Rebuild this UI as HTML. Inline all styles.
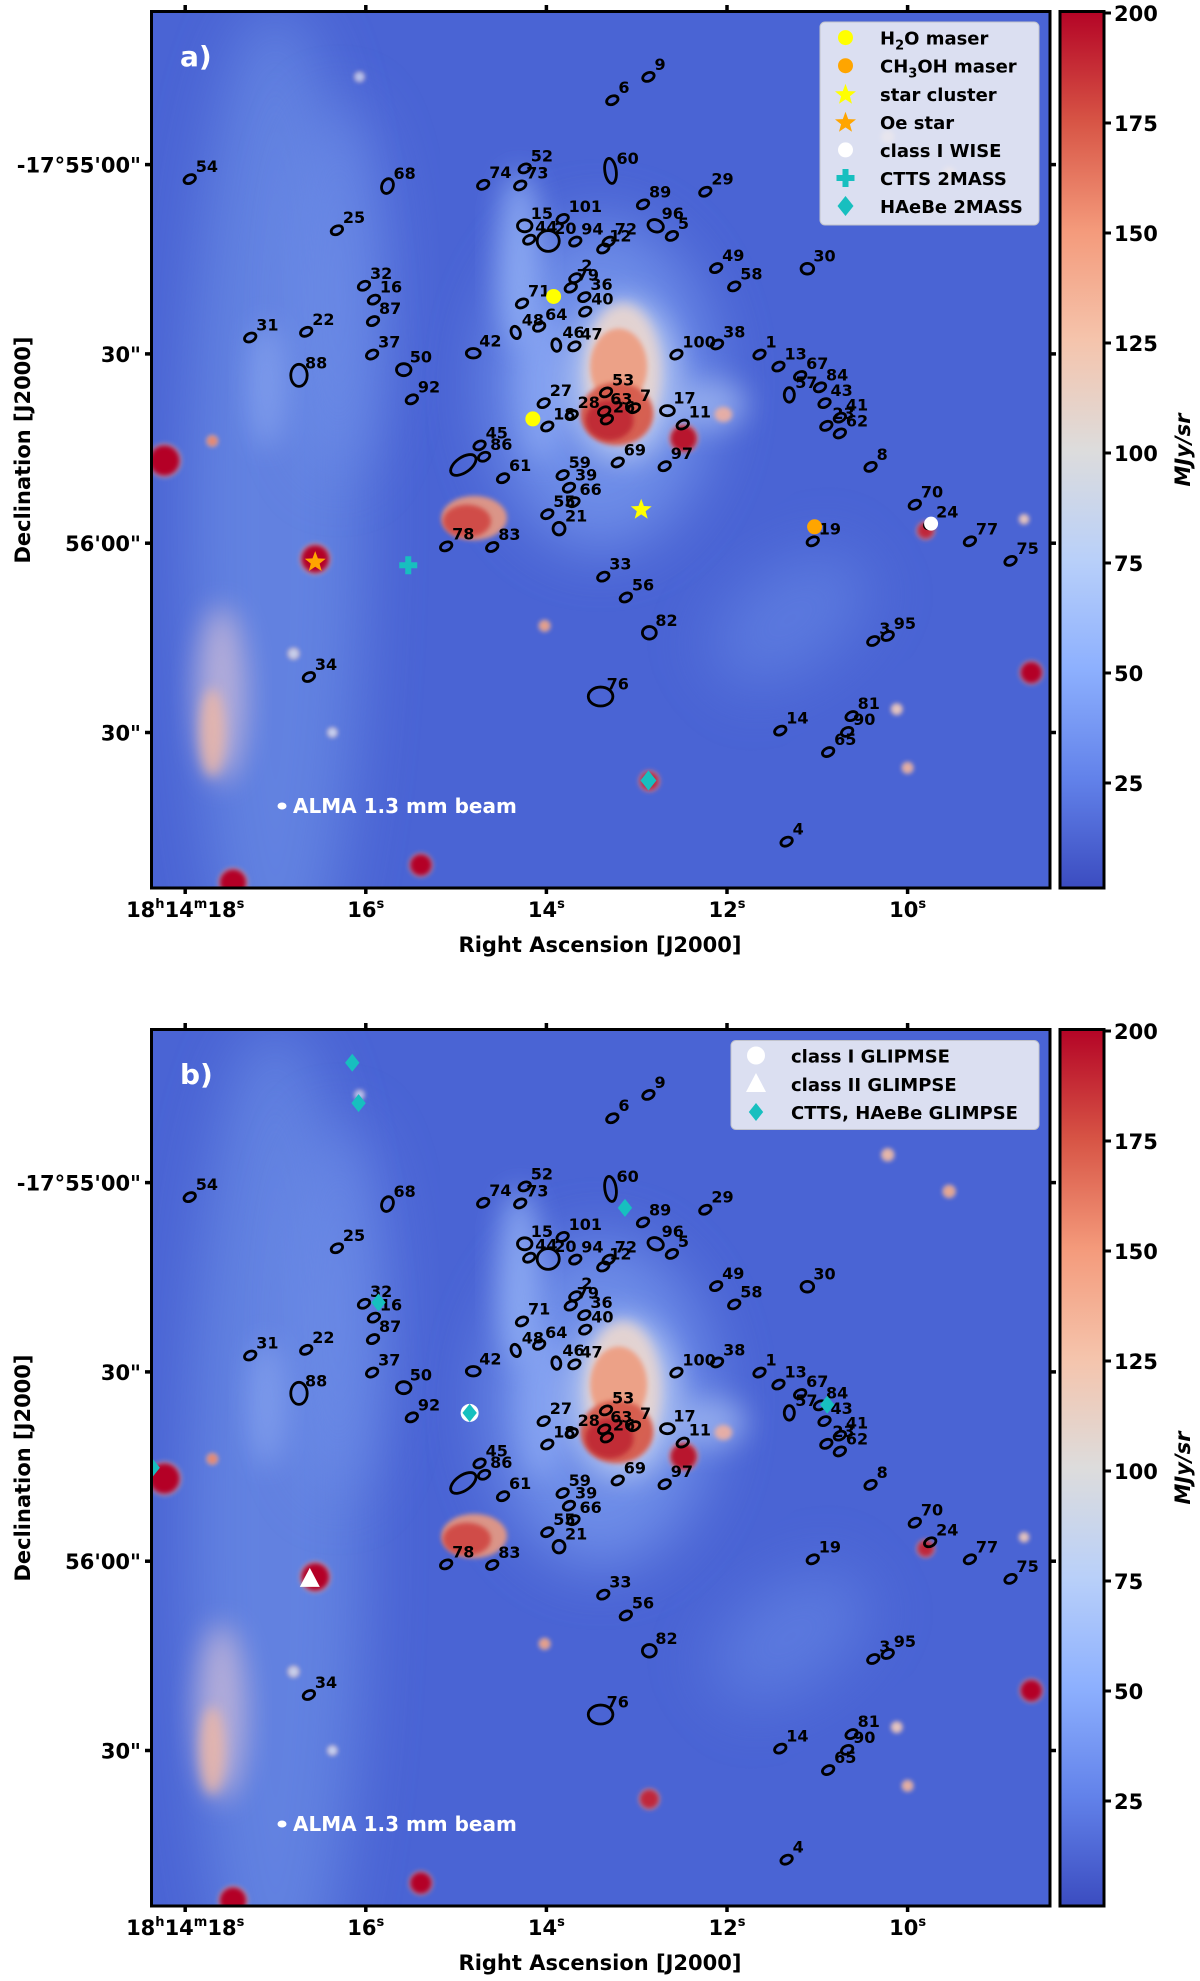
<!DOCTYPE html>
<html><head><meta charset="utf-8"><style>
html,body{margin:0;padding:0;background:#fff;}
svg{display:block;font-family:"DejaVu Sans","Liberation Sans",sans-serif;font-weight:bold;}
</style></head><body>
<svg id="fig" xmlns="http://www.w3.org/2000/svg" width="1200" height="1981" viewBox="0 0 1200 1981">
<defs>
<filter id="b30" x="-50%" y="-50%" width="200%" height="200%"><feGaussianBlur stdDeviation="30"/></filter>
<filter id="b14" x="-50%" y="-50%" width="200%" height="200%"><feGaussianBlur stdDeviation="14"/></filter>
<filter id="b6" x="-50%" y="-50%" width="200%" height="200%"><feGaussianBlur stdDeviation="6"/></filter>
<filter id="b3" x="-50%" y="-50%" width="200%" height="200%"><feGaussianBlur stdDeviation="2.5"/></filter>
<linearGradient id="cmap" x1="0" y1="0" x2="0" y2="1">
<stop offset="0" stop-color="#b40426"/><stop offset="0.125" stop-color="#d75445"/><stop offset="0.25" stop-color="#f49a7b"/><stop offset="0.375" stop-color="#f5c4ac"/><stop offset="0.5" stop-color="#dddcdc"/><stop offset="0.625" stop-color="#b9d0f9"/><stop offset="0.75" stop-color="#8db0fe"/><stop offset="0.875" stop-color="#6282ea"/><stop offset="1" stop-color="#3b4cc0"/>
</linearGradient>
<clipPath id="clipA"><rect x="151.5" y="11.5" width="898.5" height="876.5"/></clipPath>
<clipPath id="clipB"><rect x="151.5" y="1029.5" width="898.5" height="876.5"/></clipPath>
</defs>
</svg>
<script>
// ---- data (RA seconds of 18h14m, Dec arcsec south of -17°55'00") ----
const srcId  = ["9","6","54","68","74","52","73","60","89","29","25","15","101","44","20","94","72","12","96","5","49","58","30","2","79","36","40","71","64","48","32","16","87","31","22","37","50","88","92","42","46","47","100","38","1","13","67","84","57","43","23","41","62","53","27","28","63","26","7","17","11","18","45","86","","61","69","97","59","39","66","55","21","8","70","24","77","75","19","78","83","33","56","82","3","95","34","76","14","81","90","65","4"];
const srcRA  = [12.87,13.27,17.95,15.76,14.70,14.24,14.29,13.29,12.93,12.24,16.32,14.24,13.82,14.19,13.98,13.68,13.31,13.37,12.79,12.61,12.12,11.92,11.11,13.68,13.73,13.58,13.57,14.27,14.08,14.34,16.02,15.91,15.92,17.28,16.66,15.93,15.58,16.74,15.49,14.81,13.89,13.69,12.56,12.11,11.64,11.43,11.19,10.97,11.31,10.92,10.90,10.75,10.75,13.34,14.03,13.72,13.36,13.33,13.03,12.66,12.49,13.99,14.74,14.69,14.92,14.48,13.21,12.69,13.82,13.75,13.70,13.99,13.86,10.41,9.92,9.75,9.31,8.86,11.05,15.11,14.60,13.37,13.12,12.86,10.38,10.22,16.63,13.40,11.41,10.62,10.67,10.88,11.34];
const srcDec = [-13.9,-10.2,2.3,3.4,3.2,0.6,3.3,1.0,6.3,4.3,10.4,9.7,8.6,11.9,12.1,12.2,12.2,13.3,9.7,11.3,16.4,19.3,16.5,18.0,19.5,21.0,23.3,22.0,25.7,26.6,19.2,21.4,24.8,27.4,26.5,30.1,32.5,33.4,37.2,29.9,28.6,28.8,30.1,28.5,30.1,32.0,33.5,35.3,36.5,37.8,41.4,40.1,42.6,36.1,37.8,39.7,39.1,40.4,38.6,39.0,41.2,41.5,44.5,46.3,47.6,49.7,47.2,47.8,49.2,51.2,53.5,55.4,57.7,47.9,53.9,57.0,59.7,62.8,59.7,60.5,60.6,65.3,68.6,74.2,75.5,74.7,81.2,84.3,89.7,87.4,89.9,93.1,107.3];
// sizes (arcsec) for non-default sources: [semi-x, semi-y, rotation]
const srcSize = {"60":[0.9,2.0,-8],"20":[1.75,1.65,0],"15":[1.15,0.95,0],"88":[1.3,1.75,0],"76":[1.95,1.5,0],"":[2.3,1.2,-35],"17":[1.1,0.8,0],"50":[1.15,0.95,0],"82":[1.1,1.0,0],"96":[1.25,0.95,20],"68":[0.9,1.2,20],"57":[0.8,1.15,0],"21":[0.95,1.0,0],"30":[1.0,0.85,0],"42":[1.1,0.75,0],"46":[0.7,1.0,-10],"48":[0.7,1.0,-20]};
const defMaj = 0.95, defMin = 0.65, defRot = -25;

// panel a markers
const h2oRA = [13.92,14.15], h2oDec = [20.9,40.3];
const ch3ohRA = [11.03], ch3ohDec = [57.4];
const clusterRA = [12.95], clusterDec = [54.7];
const oeRA = [16.56], oeDec = [63.0];
const wiseRA = [9.74], wiseDec = [56.9];
const cttsRA = [15.53], cttsDec = [63.5];
const haebeRA = [12.87], haebeDec = [97.6];
// panel b markers
const gClassIRA = [14.85], gClassIDec = [36.5];
const gClassIIRA = [16.62], gClassIIDec = [62.8];
const gCttsRA = [16.15,16.08,13.13,15.86,10.89,18.36,14.85], gCttsDec = [-19.0,-12.6,4.0,19.0,35.2,45.2,36.5];

// axis ticks
const raTicks = [18,16,14,12,10];
const raTickLabels = ["18h14m18s","16s","14s","12s","10s"];
const decTicks = [0,30,60,90];
const decTickLabels = ["-17°55'00\"","30\"","56'00\"","30\""];
const cbTicks = [25,50,75,100,125,150,175,200];

// ---- axis functions ----
const PX = 6.31;
function X(ra){ return 365.8 + (16 - ra) * 90.3; }
function Y(dd, off){ return off + 164.6 + dd * PX; }
function CBY(v, off){ return off + 13 + (200 - v) * 4.4; }

const NS = "http://www.w3.org/2000/svg";
const svg = document.getElementById('fig');
function mk(tag, attrs, parent){
  const e = document.createElementNS(NS, tag);
  for (const k in attrs) e.setAttribute(k, attrs[k]);
  (parent || svg).appendChild(e);
  return e;
}
function starPts(cx, cy, r){
  let p = [];
  for (let i = 0; i < 10; i++){
    const a = -Math.PI/2 + i*Math.PI/5, rr = i%2 ? r*0.42 : r;
    p.push((cx + rr*Math.cos(a)).toFixed(1) + "," + (cy + rr*Math.sin(a)).toFixed(1));
  }
  return p.join(" ");
}
function diamondPts(cx, cy, r){ return `${cx},${cy-r} ${cx+r*0.8},${cy} ${cx},${cy+r} ${cx-r*0.8},${cy}`; }
function plusPath(cx, cy, r, w){
  return `M${cx-w},${cy-r}h${2*w}v${r-w}h${r-w}v${2*w}h${-(r-w)}v${r-w}h${-2*w}v${-(r-w)}h${-(r-w)}v${-2*w}h${r-w}z`;
}

// background features [ra, dd, rxArcsec, ryArcsec, color, blurId, opacity, rot]
const bgFeatures = [
  [17.0,55,14,80,"#6585e2","b30",0.9,0],
  [16.3,20,8,30,"#6e8ee8","b30",0.7,0],
  [13.4,35,18,26,"#7292ea","b30",0.9,0],
  [11.3,72,14,8,"#6383e3","b30",0.7,-35],
  [14.3,15,3.5,14,"#94b2f6","b14",0.8,0],
  [14.05,35,4,12,"#8eaaf4","b14",0.7,0],
  [13.15,34,9,13,"#b4c6f2","b14",0.9,0],
  [12.2,38,6,4,"#a4bbf2","b14",0.7,0],
  [13.15,33,6,11,"#e6d4d0","b6",0.95,0],
  [13.2,32,4.5,6,"#ee9c80","b3",0.9,0],
  [13.22,39.5,5.8,5,"#d65a4c","b3",0.95,0],
  [13.3,40.5,3.8,3.2,"#c02a36","b3",0.95,0],
  [12.04,39.6,1.4,1.2,"#f0b0a0","b3",0.9,0],
  [14.8,56,5.2,3.5,"#ea9a80","b3",0.9,0],
  [14.88,56.5,3.8,2.6,"#d04a44","b3",0.95,0],
  [17.6,84,4,14,"#c8b8d8","b14",0.8,0],
  [17.7,90,2,7,"#f0b8a4","b6",0.8,0],
  [17.1,35,3,10,"#8eaaf2","b14",0.6,0]
];
// compact bright sources [ra, dd, rArcsec, color]
const blobs = [
  [18.23,46.9,2.4,"#b40426"],[16.56,62.5,2.2,"#b40426"],[15.39,111.0,1.7,"#b40426"],
  [17.47,113.8,2.1,"#b40426"],[8.63,80.5,1.7,"#b40426"],[12.86,97.7,1.5,"#c0283a"],
  [9.80,58.0,1.3,"#c0283a"],[12.48,43.4,2.1,"#b8152e"],[17.70,43.8,0.8,"#e88870"],
  [14.02,73.1,0.8,"#e8a088"],[10.22,-4.4,0.9,"#e8b8a8"],[9.54,1.4,0.9,"#e8a890"],
  [8.71,56.2,0.7,"#e8c8c0"],[10.12,86.3,0.8,"#e8c8c0"],[10.00,95.6,0.8,"#e8b0a0"],
  [16.37,90.0,0.7,"#c8d4f4"],[16.80,77.5,0.8,"#c8d0ec"],[16.07,-13.9,0.7,"#b8c8f4"]
];

function drawPanel(off, panel){
  const clip = panel === 'a' ? 'clipA' : 'clipB';
  const g = mk('g', {'clip-path': `url(#${clip})`});
  
  
  mk('rect', {x:151.5, y:off+11.5, width:898.5, height:876.5, fill:"#4a64d4"}, g);
  bgFeatures.forEach(f => {
    const cx = X(f[0]), cy = Y(f[1], off);
    mk('ellipse', {cx, cy, rx:f[2]*PX, ry:f[3]*PX, fill:f[4], opacity:f[6], filter:`url(#${f[5]})`, transform:`rotate(${f[7]} ${cx} ${cy})`}, g);
  });
  blobs.forEach(b => {
    const cx = X(b[0]), cy = Y(b[1], off);
    mk('circle', {cx, cy, r:b[2]*PX*1.15, fill:"#f0b8a8", opacity:0.5, filter:"url(#b3)"}, g);
    mk('circle', {cx, cy, r:b[2]*PX, fill:b[3], filter:"url(#b3)"}, g);
  });
  const sg = mk('g', {}, g);
  
  
  srcId.forEach((id, i) => {
    const cx = X(srcRA[i]), cy = Y(srcDec[i], off);
    const s = srcSize[id] || [defMaj, defMin, defRot];
    const e = mk('ellipse', {cx, cy, rx:s[0]*PX, ry:s[1]*PX, fill:"none", stroke:"#000", 'stroke-width':2.8, transform:`rotate(${s[2]} ${cx} ${cy})`}, sg);
    
    
    if (id){
      const t = mk('text', {x:cx + 6, y:cy - 7, 'font-size':16, fill:"#000"}, sg);
      t.textContent = id;
      
      
    }
  });
  const mg = mk('g', {}, g);
  
  
  if (panel === 'a'){
    h2oRA.forEach((r,i) => { const m = mk('circle', {cx:X(r), cy:Y(h2oDec[i],off), r:7.5, fill:"#ffff00"}, mg);   });
    ch3ohRA.forEach((r,i) => { const m = mk('circle', {cx:X(r), cy:Y(ch3ohDec[i],off), r:7.5, fill:"#ffa500"}, mg);   });
    clusterRA.forEach((r,i) => { const m = mk('polygon', {points:starPts(X(r), Y(clusterDec[i],off), 11), fill:"#ffff00"}, mg);   });
    oeRA.forEach((r,i) => { const m = mk('polygon', {points:starPts(X(r), Y(oeDec[i],off), 11), fill:"#ffa500"}, mg);   });
    wiseRA.forEach((r,i) => { const m = mk('circle', {cx:X(r), cy:Y(wiseDec[i],off), r:7, fill:"#ffffff"}, mg);   });
    cttsRA.forEach((r,i) => { const m = mk('path', {d:plusPath(X(r), Y(cttsDec[i],off), 9, 3), fill:"#17bfbf"}, mg);   });
    haebeRA.forEach((r,i) => { const m = mk('polygon', {points:diamondPts(X(r), Y(haebeDec[i],off), 10), fill:"#17bfbf"}, mg);   });
  } else {
    gClassIRA.forEach((r,i) => { const m = mk('circle', {cx:X(r), cy:Y(gClassIDec[i],off), r:9, fill:"#ffffff"}, mg);   });
    gClassIIRA.forEach((r,i) => { const x = X(r), y = Y(gClassIIDec[i],off); const m = mk('polygon', {points:`${x},${y-11} ${x+10},${y+8} ${x-10},${y+8}`, fill:"#ffffff"}, mg);   });
    gCttsRA.forEach((r,i) => { const m = mk('polygon', {points:diamondPts(X(r), Y(gCttsDec[i],off), 9), fill:"#17bfbf"}, mg);   });
  }
  const pl = mk('text', {x:180, y:off+66, 'font-size':28, fill:"#fff"});
  pl.textContent = panel + ")";
  
  
  const bd = mk('ellipse', {cx:282, cy:off+806, rx:4.5, ry:3.5, fill:"#fff"});
  
  
  const bt = mk('text', {x:293, y:off+813, 'font-size':20, fill:"#fff"});
  bt.textContent = "ALMA 1.3 mm beam";
  
  

  const fr = mk('rect', {x:151.5, y:off+11.5, width:898.5, height:876.5, fill:"none", stroke:"#000", 'stroke-width':3});
  
  
  raTicks.forEach((ra, i) => {
    const x = X(ra);
    mk('line', {x1:x, x2:x, y1:off+11.5, y2:off+5, stroke:"#000", 'stroke-width':3.5});
    mk('line', {x1:x, x2:x, y1:off+888, y2:off+894, stroke:"#000", 'stroke-width':3.5});
    const t = mk('text', {x:x, y:off+917, 'font-size':21, 'text-anchor':"middle", fill:"#000"});
    
    
    if (i === 0){
      t.innerHTML = '18<tspan font-size="13" dy="-9">h</tspan><tspan dy="9">14</tspan><tspan font-size="13" dy="-9">m</tspan><tspan dy="9">18</tspan><tspan font-size="13" dy="-9">s</tspan>';
    } else {
      t.innerHTML = raTickLabels[i].replace('s','') + '<tspan font-size="13" dy="-9">s</tspan>';
    }
  });
  decTicks.forEach((d, i) => {
    const y = Y(d, off);
    mk('line', {x1:151.5, x2:145, y1:y, y2:y, stroke:"#000", 'stroke-width':3.5});
    mk('line', {x1:1050, x2:1056, y1:y, y2:y, stroke:"#000", 'stroke-width':3.5});
    const t = mk('text', {x:141, y:y+8, 'font-size':21, 'text-anchor':"end", fill:"#000"});
    t.textContent = decTickLabels[i];
    
    
  });
  const xt = mk('text', {x:600, y:off+952, 'font-size':21, 'text-anchor':"middle", fill:"#000"});
  xt.textContent = "Right Ascension [J2000]";
  
  
  const yt = mk('text', {x:0, y:0, 'font-size':21, 'text-anchor':"middle", fill:"#000", transform:`translate(30 ${off+450}) rotate(-90)`});
  yt.textContent = "Declination [J2000]";
  
  

  const cb = mk('rect', {x:1060, y:off+11.5, width:44, height:876.5, fill:"url(#cmap)", stroke:"#000", 'stroke-width':3});
  
  
  cbTicks.forEach(v => {
    const y = CBY(v, off);
    mk('line', {x1:1104, x2:1111, y1:y, y2:y, stroke:"#000", 'stroke-width':3});
    const t = mk('text', {x:1114, y:y+8, 'font-size':21, fill:"#000"});
    t.textContent = v;
    
    
  });
  const ct = mk('text', {x:0, y:0, 'font-size':21, 'font-style':"italic", 'text-anchor':"middle", fill:"#000", transform:`translate(1190 ${off+450}) rotate(-90)`});
  ct.textContent = "MJy/sr";
  
  

  const lg = mk('g', {});
  
  
  if (panel === 'a'){
    mk('rect', {x:820, y:off+22, width:219, height:203, rx:5, fill:"#e8eaf4", opacity:0.92, stroke:"#cccccc"}, lg);
    const ys = [37.6,65.7,93.8,121.8,149.9,178,206];
    const lab = ['H<tspan font-size="13" dy="5">2</tspan><tspan dy="-5">O maser</tspan>','CH<tspan font-size="13" dy="5">3</tspan><tspan dy="-5">OH maser</tspan>','star cluster','Oe star','class I WISE','CTTS 2MASS','HAeBe 2MASS'];
    mk('circle', {cx:845.5, cy:off+ys[0], r:7.5, fill:"#ffff00"}, lg);
    mk('circle', {cx:845.5, cy:off+ys[1], r:7.5, fill:"#ffa500"}, lg);
    mk('polygon', {points:starPts(845.5, off+ys[2]+1, 11), fill:"#ffff00"}, lg);
    mk('polygon', {points:starPts(845.5, off+ys[3]+1, 11), fill:"#ffa500"}, lg);
    mk('circle', {cx:845.5, cy:off+ys[4], r:7.5, fill:"#ffffff"}, lg);
    mk('path', {d:plusPath(845.5, off+ys[5], 9, 3), fill:"#17bfbf"}, lg);
    mk('polygon', {points:diamondPts(845.5, off+ys[6], 10), fill:"#17bfbf"}, lg);
    ys.forEach((y,i) => {
      const t = mk('text', {x:880, y:off+y+7, 'font-size':18, fill:"#000"}, lg);
      t.innerHTML = lab[i];
      
      
    });
  } else {
    mk('rect', {x:731, y:off+22.5, width:308, height:89, rx:5, fill:"#e8eaf4", opacity:0.92, stroke:"#cccccc"}, lg);
    const ys = [37.5,66,94];
    const lab = ['class I GLIPMSE','class II GLIMPSE','CTTS, HAeBe GLIMPSE'];
    mk('circle', {cx:756, cy:off+ys[0], r:9, fill:"#ffffff"}, lg);
    mk('polygon', {points:`756,${off+ys[1]-11} 766,${off+ys[1]+8} 746,${off+ys[1]+8}`, fill:"#ffffff"}, lg);
    mk('polygon', {points:diamondPts(756, off+ys[2], 9), fill:"#17bfbf"}, lg);
    ys.forEach((y,i) => {
      const t = mk('text', {x:791, y:off+y+7, 'font-size':18, fill:"#000"}, lg);
      t.textContent = lab[i];
      
      
    });
  }
}
drawPanel(0, 'a');
drawPanel(1018, 'b');
</script>
</body></html>
